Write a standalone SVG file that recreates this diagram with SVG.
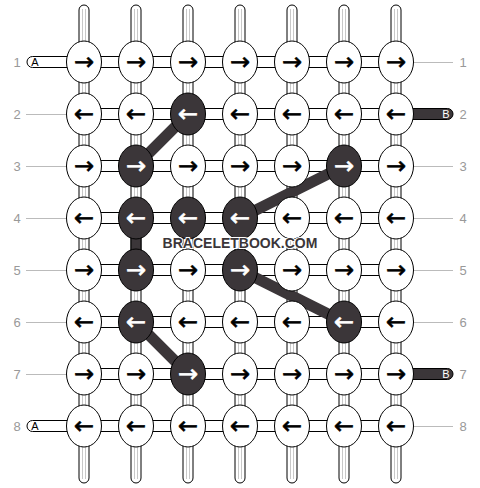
<svg xmlns="http://www.w3.org/2000/svg" width="480" height="488" viewBox="0 0 480 488">
<style>
.st{fill:#fff;stroke:#000;stroke-width:1}
.gl{stroke:#c8c8c8;stroke-width:1}
.hz{fill:#fff;stroke:#000;stroke-width:1}
.n{fill:#fff;stroke:#000;stroke-width:1}
.d{fill:#3b3639;stroke:#000;stroke-width:1}
.a{font-family:"DejaVu Sans",sans-serif;font-size:24px;text-anchor:middle;fill:#000;stroke:#000;stroke-width:0.6}
.d + .a{fill:#fff;stroke:#fff}
.lbl{font-family:"Liberation Sans",Arial,sans-serif;font-size:13px;fill:#999;text-anchor:middle}
.ll{stroke:#bbb;stroke-width:1}
.tw{fill:#fff;stroke:#000;stroke-width:1}
.tb{fill:#3b3639;stroke:#000;stroke-width:1}
.tt{font-family:"Liberation Sans",Arial,sans-serif;font-size:11px;text-anchor:middle}
.th{stroke:#3b3639;stroke-width:11;fill:none}
.wm{font-family:"Liberation Sans",Arial,sans-serif;font-weight:bold;font-size:14px;fill:#3b3639;stroke:#fff;stroke-width:2;paint-order:stroke;text-anchor:middle}
</style>
<rect width="480" height="488" fill="#fff"/>
<g id="strands">
<rect class="st" x="79" y="5" width="10" height="478" rx="5"/>
<rect class="st" x="131" y="5" width="10" height="478" rx="5"/>
<rect class="st" x="183" y="5" width="10" height="478" rx="5"/>
<rect class="st" x="235" y="5" width="10" height="478" rx="5"/>
<rect class="st" x="287" y="5" width="10" height="478" rx="5"/>
<rect class="st" x="339" y="5" width="10" height="478" rx="5"/>
<rect class="st" x="391" y="5" width="10" height="478" rx="5"/>
<path class="gl" d="M82.5 9V479M85.5 9V479M134.5 9V479M137.5 9V479M186.5 9V479M189.5 9V479M238.5 9V479M241.5 9V479M290.5 9V479M293.5 9V479M342.5 9V479M345.5 9V479M394.5 9V479M397.5 9V479"/>
<rect class="hz" x="84" y="56.5" width="312" height="11"/>
<rect class="hz" x="84" y="108.5" width="312" height="11"/>
<rect class="hz" x="84" y="160.5" width="312" height="11"/>
<rect class="hz" x="84" y="212.5" width="312" height="11"/>
<rect class="hz" x="84" y="264.5" width="312" height="11"/>
<rect class="hz" x="84" y="316.5" width="312" height="11"/>
<rect class="hz" x="84" y="368.5" width="312" height="11"/>
<rect class="hz" x="84" y="420.5" width="312" height="11"/>
</g>
<g id="labels">
<text class="lbl" x="17" y="67">1</text>
<text class="lbl" x="17" y="119">2</text>
<text class="lbl" x="17" y="171">3</text>
<text class="lbl" x="17" y="223">4</text>
<text class="lbl" x="17" y="275">5</text>
<text class="lbl" x="17" y="327">6</text>
<text class="lbl" x="17" y="379">7</text>
<text class="lbl" x="17" y="431">8</text>
<text class="lbl" x="463" y="67">1</text>
<text class="lbl" x="463" y="119">2</text>
<text class="lbl" x="463" y="171">3</text>
<text class="lbl" x="463" y="223">4</text>
<text class="lbl" x="463" y="275">5</text>
<text class="lbl" x="463" y="327">6</text>
<text class="lbl" x="463" y="379">7</text>
<text class="lbl" x="463" y="431">8</text>
<path class="ll" d="M26 114.5H67M26 166.5H67M26 218.5H67M26 270.5H67M26 322.5H67M26 374.5H67M413 62.5H453M413 166.5H453M413 218.5H453M413 270.5H453M413 322.5H453M413 426.5H453"/>
</g>
<g id="tails">
<rect class="tw" x="27" y="56.5" width="50" height="11" rx="5.5"/>
<text class="tt" x="35" y="66" fill="#000">A</text>
<rect class="tw" x="27" y="420.5" width="50" height="11" rx="5.5"/>
<text class="tt" x="35" y="430" fill="#000">A</text>
<rect class="tb" x="404" y="108.5" width="49" height="11" rx="5.5"/>
<text class="tt" x="446" y="118" fill="#fff">B</text>
<rect class="tb" x="404" y="368.5" width="49" height="11" rx="5.5"/>
<text class="tt" x="446" y="378" fill="#fff">B</text>
</g>
<g id="connectors">
<line class="th" x1="188" y1="114" x2="136" y2="166"/>
<rect class="tb" x="131" y="230" width="10" height="28"/>
<line class="th" x1="240" y1="218" x2="344" y2="166"/>
<line class="th" x1="240" y1="270" x2="344" y2="322"/>
<line class="th" x1="136" y1="322" x2="188" y2="374"/>
</g>
<g id="nodes">
<g id="r1c1"><ellipse class="n" cx="84" cy="62" rx="17.5" ry="21"/><text class="a" x="84" y="70">→</text></g>
<g id="r1c2"><ellipse class="n" cx="136" cy="62" rx="17.5" ry="21"/><text class="a" x="136" y="70">→</text></g>
<g id="r1c3"><ellipse class="n" cx="188" cy="62" rx="17.5" ry="21"/><text class="a" x="188" y="70">→</text></g>
<g id="r1c4"><ellipse class="n" cx="240" cy="62" rx="17.5" ry="21"/><text class="a" x="240" y="70">→</text></g>
<g id="r1c5"><ellipse class="n" cx="292" cy="62" rx="17.5" ry="21"/><text class="a" x="292" y="70">→</text></g>
<g id="r1c6"><ellipse class="n" cx="344" cy="62" rx="17.5" ry="21"/><text class="a" x="344" y="70">→</text></g>
<g id="r1c7"><ellipse class="n" cx="396" cy="62" rx="17.5" ry="21"/><text class="a" x="396" y="70">→</text></g>

<g id="r2c1"><ellipse class="n" cx="84" cy="114" rx="17.5" ry="21"/><text class="a" x="84" y="122">←</text></g>
<g id="r2c2"><ellipse class="n" cx="136" cy="114" rx="17.5" ry="21"/><text class="a" x="136" y="122">←</text></g>
<g id="r2c3"><ellipse class="d" cx="188" cy="114" rx="17.5" ry="21"/><text class="a" x="188" y="122">←</text></g>
<g id="r2c4"><ellipse class="n" cx="240" cy="114" rx="17.5" ry="21"/><text class="a" x="240" y="122">←</text></g>
<g id="r2c5"><ellipse class="n" cx="292" cy="114" rx="17.5" ry="21"/><text class="a" x="292" y="122">←</text></g>
<g id="r2c6"><ellipse class="n" cx="344" cy="114" rx="17.5" ry="21"/><text class="a" x="344" y="122">←</text></g>
<g id="r2c7"><ellipse class="n" cx="396" cy="114" rx="17.5" ry="21"/><text class="a" x="396" y="122">←</text></g>

<g id="r3c1"><ellipse class="n" cx="84" cy="166" rx="17.5" ry="21"/><text class="a" x="84" y="174">→</text></g>
<g id="r3c2"><ellipse class="d" cx="136" cy="166" rx="17.5" ry="21"/><text class="a" x="136" y="174">→</text></g>
<g id="r3c3"><ellipse class="n" cx="188" cy="166" rx="17.5" ry="21"/><text class="a" x="188" y="174">→</text></g>
<g id="r3c4"><ellipse class="n" cx="240" cy="166" rx="17.5" ry="21"/><text class="a" x="240" y="174">→</text></g>
<g id="r3c5"><ellipse class="n" cx="292" cy="166" rx="17.5" ry="21"/><text class="a" x="292" y="174">→</text></g>
<g id="r3c6"><ellipse class="d" cx="344" cy="166" rx="17.5" ry="21"/><text class="a" x="344" y="174">→</text></g>
<g id="r3c7"><ellipse class="n" cx="396" cy="166" rx="17.5" ry="21"/><text class="a" x="396" y="174">→</text></g>

<g id="r4c1"><ellipse class="n" cx="84" cy="218" rx="17.5" ry="21"/><text class="a" x="84" y="226">←</text></g>
<g id="r4c2"><ellipse class="d" cx="136" cy="218" rx="17.5" ry="21"/><text class="a" x="136" y="226">←</text></g>
<g id="r4c3"><ellipse class="d" cx="188" cy="218" rx="17.5" ry="21"/><text class="a" x="188" y="226">←</text></g>
<g id="r4c4"><ellipse class="d" cx="240" cy="218" rx="17.5" ry="21"/><text class="a" x="240" y="226">←</text></g>
<g id="r4c5"><ellipse class="n" cx="292" cy="218" rx="17.5" ry="21"/><text class="a" x="292" y="226">←</text></g>
<g id="r4c6"><ellipse class="n" cx="344" cy="218" rx="17.5" ry="21"/><text class="a" x="344" y="226">←</text></g>
<g id="r4c7"><ellipse class="n" cx="396" cy="218" rx="17.5" ry="21"/><text class="a" x="396" y="226">←</text></g>

<g id="r5c1"><ellipse class="n" cx="84" cy="270" rx="17.5" ry="21"/><text class="a" x="84" y="278">→</text></g>
<g id="r5c2"><ellipse class="d" cx="136" cy="270" rx="17.5" ry="21"/><text class="a" x="136" y="278">→</text></g>
<g id="r5c3"><ellipse class="n" cx="188" cy="270" rx="17.5" ry="21"/><text class="a" x="188" y="278">→</text></g>
<g id="r5c4"><ellipse class="d" cx="240" cy="270" rx="17.5" ry="21"/><text class="a" x="240" y="278">→</text></g>
<g id="r5c5"><ellipse class="n" cx="292" cy="270" rx="17.5" ry="21"/><text class="a" x="292" y="278">→</text></g>
<g id="r5c6"><ellipse class="n" cx="344" cy="270" rx="17.5" ry="21"/><text class="a" x="344" y="278">→</text></g>
<g id="r5c7"><ellipse class="n" cx="396" cy="270" rx="17.5" ry="21"/><text class="a" x="396" y="278">→</text></g>

<g id="r6c1"><ellipse class="n" cx="84" cy="322" rx="17.5" ry="21"/><text class="a" x="84" y="330">←</text></g>
<g id="r6c2"><ellipse class="d" cx="136" cy="322" rx="17.5" ry="21"/><text class="a" x="136" y="330">←</text></g>
<g id="r6c3"><ellipse class="n" cx="188" cy="322" rx="17.5" ry="21"/><text class="a" x="188" y="330">←</text></g>
<g id="r6c4"><ellipse class="n" cx="240" cy="322" rx="17.5" ry="21"/><text class="a" x="240" y="330">←</text></g>
<g id="r6c5"><ellipse class="n" cx="292" cy="322" rx="17.5" ry="21"/><text class="a" x="292" y="330">←</text></g>
<g id="r6c6"><ellipse class="d" cx="344" cy="322" rx="17.5" ry="21"/><text class="a" x="344" y="330">←</text></g>
<g id="r6c7"><ellipse class="n" cx="396" cy="322" rx="17.5" ry="21"/><text class="a" x="396" y="330">←</text></g>

<g id="r7c1"><ellipse class="n" cx="84" cy="374" rx="17.5" ry="21"/><text class="a" x="84" y="382">→</text></g>
<g id="r7c2"><ellipse class="n" cx="136" cy="374" rx="17.5" ry="21"/><text class="a" x="136" y="382">→</text></g>
<g id="r7c3"><ellipse class="d" cx="188" cy="374" rx="17.5" ry="21"/><text class="a" x="188" y="382">→</text></g>
<g id="r7c4"><ellipse class="n" cx="240" cy="374" rx="17.5" ry="21"/><text class="a" x="240" y="382">→</text></g>
<g id="r7c5"><ellipse class="n" cx="292" cy="374" rx="17.5" ry="21"/><text class="a" x="292" y="382">→</text></g>
<g id="r7c6"><ellipse class="n" cx="344" cy="374" rx="17.5" ry="21"/><text class="a" x="344" y="382">→</text></g>
<g id="r7c7"><ellipse class="n" cx="396" cy="374" rx="17.5" ry="21"/><text class="a" x="396" y="382">→</text></g>

<g id="r8c1"><ellipse class="n" cx="84" cy="426" rx="17.5" ry="21"/><text class="a" x="84" y="434">←</text></g>
<g id="r8c2"><ellipse class="n" cx="136" cy="426" rx="17.5" ry="21"/><text class="a" x="136" y="434">←</text></g>
<g id="r8c3"><ellipse class="n" cx="188" cy="426" rx="17.5" ry="21"/><text class="a" x="188" y="434">←</text></g>
<g id="r8c4"><ellipse class="n" cx="240" cy="426" rx="17.5" ry="21"/><text class="a" x="240" y="434">←</text></g>
<g id="r8c5"><ellipse class="n" cx="292" cy="426" rx="17.5" ry="21"/><text class="a" x="292" y="434">←</text></g>
<g id="r8c6"><ellipse class="n" cx="344" cy="426" rx="17.5" ry="21"/><text class="a" x="344" y="434">←</text></g>
<g id="r8c7"><ellipse class="n" cx="396" cy="426" rx="17.5" ry="21"/><text class="a" x="396" y="434">←</text></g>
</g>
<text class="wm" x="240" y="248">BRACELETBOOK.COM</text>
</svg>
